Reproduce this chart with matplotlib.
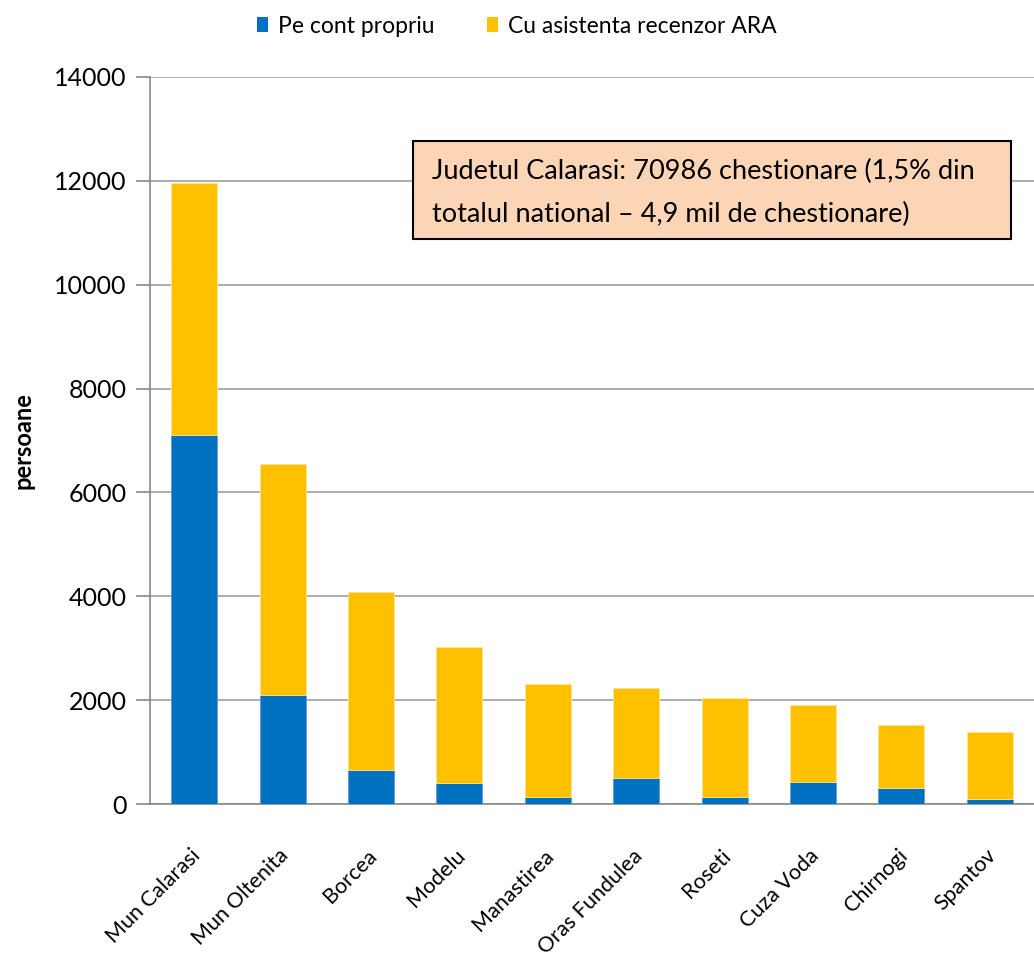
import numpy as np
import matplotlib
matplotlib.use("Agg")
import matplotlib.pyplot as plt
import matplotlib.transforms as mtransforms
from matplotlib.patches import Patch, Rectangle

plt.rcParams['font.family'] = ['Lato', 'DejaVu Sans']

localitati = ['Mun Calarasi', 'Mun Oltenita', 'Borcea', 'Modelu', 'Manastirea',
              'Oras Fundulea', 'Roseti', 'Cuza Voda', 'Chirnogi', 'Spantov']
pe_cont_propriu = [7100, 2090, 655, 400, 130, 508, 135, 430, 315, 90]
total = [11960, 6555, 4083, 3022, 2308, 2231, 2038, 1916, 1517, 1395]
cu_asistenta = [t - p for t, p in zip(total, pe_cont_propriu)]

serii = ['Pe cont propriu', 'Cu asistenta recenzor ARA']
culori = ['#0070C0', '#FFC000']
nota = ['Judetul Calarasi: 70986 chestionare (1,5% din',
        'totalul national \u2013 4,9 mil de chestionare)']

W, H = 1034, 956
fig = plt.figure(figsize=(W / 100, H / 100), dpi=100)
ax = fig.add_axes([150 / W, 1 - 804 / H, 884 / W, 727 / H])

x = np.arange(len(localitati))
ax.bar(x, pe_cont_propriu, width=0.52, color=culori[0], edgecolor='#5B9BD5', linewidth=0.6, zorder=3)
ax.bar(x, cu_asistenta, bottom=pe_cont_propriu, width=0.52, color=culori[1],
       edgecolor='#FFE699', linewidth=0.6, zorder=3)

ax.set_xlim(-0.5, len(localitati) - 0.5)
ax.set_ylim(0, 14000)
ax.set_yticks(np.arange(0, 14001, 2000))
ax.yaxis.grid(True, color='#A0A0A0', linewidth=1.2, zorder=0)
ax.set_axisbelow(True)

for s in ['top', 'right']:
    ax.spines[s].set_visible(False)
for s in ['left', 'bottom']:
    ax.spines[s].set_color('#888888')
    ax.spines[s].set_linewidth(1.2)

ax.tick_params(axis='y', length=10, width=1.2, color='#888888', labelsize=18, pad=7)
ax.tick_params(axis='x', length=0, labelsize=15.5, pad=35)
ax.set_xticks(x)
ax.set_xticklabels(localitati, rotation=45, ha='right', va='center', rotation_mode='anchor')
shift = mtransforms.ScaledTranslation(3 / 100, 0, fig.dpi_scale_trans)
for lbl in ax.get_xticklabels():
    lbl.set_transform(lbl.get_transform() + shift)
ax.set_ylabel('persoane', fontsize=17, fontweight='bold', labelpad=14)

# legenda sus
handles = [Patch(facecolor=c, label=n) for c, n in zip(culori, serii)]
fig.legend(handles=handles, loc='upper center', bbox_to_anchor=(0.5, 1.005), ncol=2,
           frameon=False, fontsize=16.5, handlelength=0.45, handleheight=0.6,
           handletextpad=0.45, columnspacing=2.3)

# caseta cu nota
fig.patches.append(Rectangle((413 / W, 1 - 239 / H), 598 / W, 98 / H, transform=fig.transFigure,
                             facecolor='#FBD5B5', edgecolor='black', linewidth=1.5, zorder=5))
fig.text(432 / W, 1 - 171 / H, nota[0], fontsize=19.5, va='center', ha='left', zorder=6)
fig.text(432 / W, 1 - 214 / H, nota[1], fontsize=19.5, va='center', ha='left', zorder=6)

fig.savefig('out.png', dpi=100)
